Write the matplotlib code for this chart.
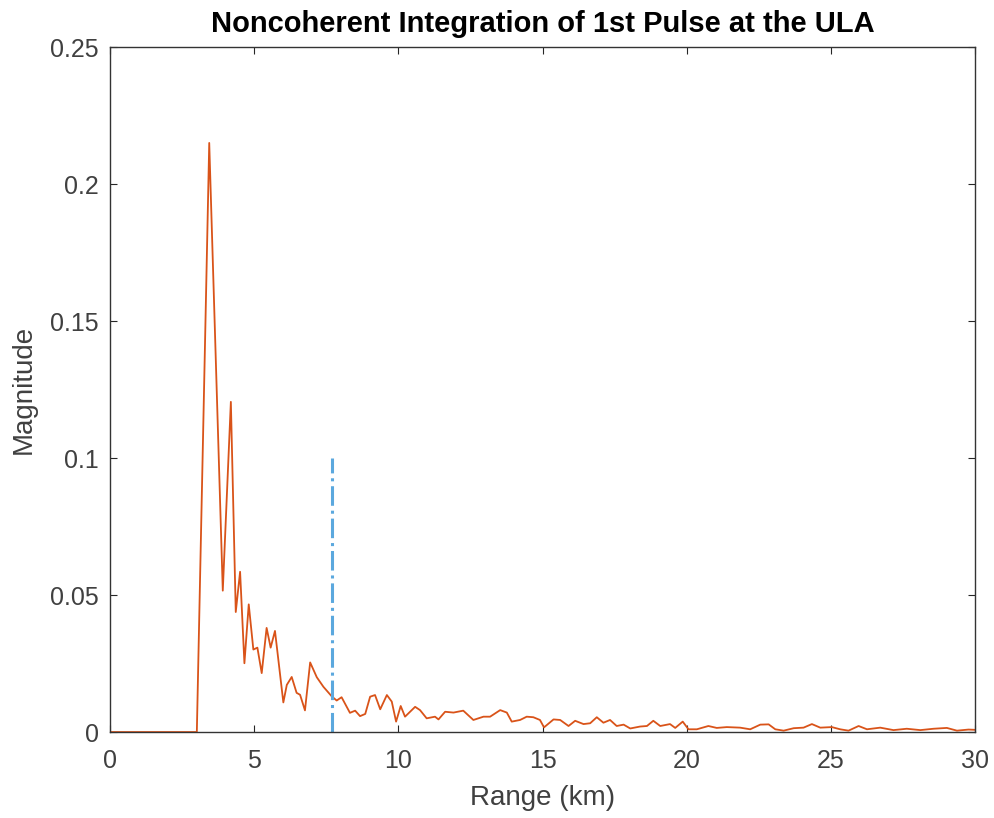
import matplotlib
matplotlib.use("Agg")
import matplotlib.pyplot as plt

plt.rcParams['font.family'] = ['Liberation Sans', 'DejaVu Sans']

range_km = [0.0, 3.01, 3.44, 3.91, 4.19, 4.36, 4.51, 4.66, 4.81, 4.97, 5.11, 5.26, 5.43,
            5.57, 5.72, 6.01, 6.13, 6.30, 6.47, 6.59, 6.76, 6.94, 7.17, 7.40, 7.69,
            7.86, 8.03, 8.32, 8.50, 8.67, 8.85, 9.02, 9.19, 9.37, 9.60, 9.77, 9.92,
            10.08, 10.23, 10.58, 10.75, 10.98, 11.27, 11.39, 11.62, 11.91, 12.25,
            12.60, 12.95, 13.18, 13.53, 13.76, 13.93, 14.22, 14.45, 14.68, 14.91,
            15.05, 15.38, 15.61, 15.90, 16.13, 16.42, 16.65, 16.88, 17.11, 17.34,
            17.57, 17.81, 18.04, 18.38, 18.62, 18.84, 19.08, 19.42, 19.60, 19.86,
            20.06, 20.35, 20.75, 21.04, 21.39, 21.85, 22.20, 22.55, 22.84, 23.07,
            23.36, 23.71, 24.05, 24.34, 24.63, 25.03, 25.32, 25.61, 25.96, 26.25,
            26.71, 27.17, 27.63, 28.10, 28.56, 29.02, 29.37, 29.77, 30.0]
magnitude = [0.0, 0.0, 0.215, 0.0516, 0.1205, 0.0438, 0.0585, 0.0251, 0.0466, 0.0301,
             0.0308, 0.0215, 0.0380, 0.0308, 0.0369, 0.0108, 0.0172, 0.0201, 0.0143,
             0.0136, 0.0079, 0.0254, 0.0200, 0.0165, 0.0130, 0.0115, 0.0127, 0.0070,
             0.0078, 0.0058, 0.0066, 0.0129, 0.0135, 0.0083, 0.0135, 0.0111, 0.0038,
             0.0095, 0.0056, 0.0092, 0.0080, 0.0050, 0.0056, 0.0046, 0.0074, 0.0071,
             0.0078, 0.0044, 0.0056, 0.0056, 0.0080, 0.0071, 0.0038, 0.0044, 0.0056,
             0.0054, 0.0044, 0.0017, 0.0046, 0.0044, 0.0022, 0.0041, 0.0029, 0.0032,
             0.0054, 0.0034, 0.0044, 0.0022, 0.0027, 0.0013, 0.0020, 0.0022, 0.0041,
             0.0022, 0.0029, 0.0015, 0.0038, 0.0010, 0.0010, 0.0022, 0.0015, 0.0018,
             0.0016, 0.0010, 0.0027, 0.0028, 0.0010, 0.0005, 0.0014, 0.0016, 0.0029,
             0.0016, 0.0018, 0.0010, 0.0005, 0.0022, 0.0010, 0.0016, 0.0007, 0.0012,
             0.0007, 0.0012, 0.0015, 0.0005, 0.0009, 0.0008]

target_range = [7.69, 7.69]
target_mag = [0.0, 0.1]

x_ticks = [0, 5, 10, 15, 20, 25, 30]
y_ticks = [0, 0.05, 0.1, 0.15, 0.2, 0.25]
y_tick_labels = ['0', '0.05', '0.1', '0.15', '0.2', '0.25']

fig = plt.figure(figsize=(9.94, 8.18), dpi=100)
ax = fig.add_axes([0.1107, 0.1051, 0.8703, 0.8374])

ax.plot(range_km, magnitude, color='#D95319', linewidth=1.3)
ax.plot(target_range, target_mag, color='#5BA8DE', linewidth=2.2, linestyle='-.')

ax.set_xlim(0, 30)
ax.set_ylim(0, 0.25)
ax.set_xticks(x_ticks)
ax.set_yticks(y_ticks)
ax.set_yticklabels(y_tick_labels)

gray = '#404040'
ax.tick_params(direction='in', top=True, right=True, length=5, width=0.8,
               color='#262626', labelcolor=gray, labelsize=18)
ax.tick_params(axis='x', pad=12)
ax.tick_params(axis='y', pad=8)
for s in ax.spines.values():
    s.set_color('#333333')
    s.set_linewidth(1.0)

ax.set_xlabel('Range (km)', fontsize=20, color=gray, labelpad=9)
ax.set_ylabel('Magnitude', fontsize=20, color=gray, labelpad=10)
ax.set_title('Noncoherent Integration of 1st Pulse at the ULA', fontsize=21,
             fontweight='bold', color='black', pad=11)

fig.savefig('out.png', dpi=100)
